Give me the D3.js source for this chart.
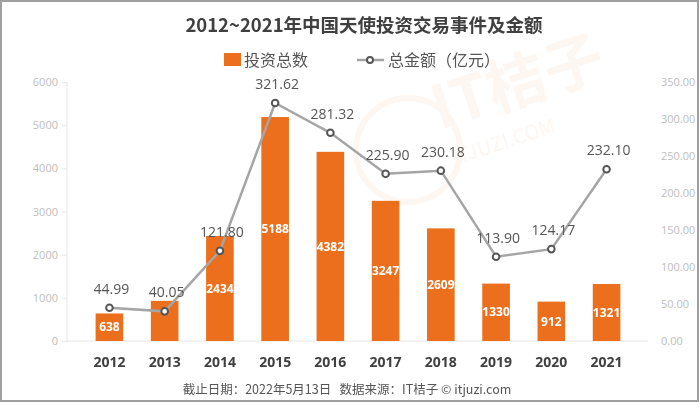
<!DOCTYPE html>
<html><head><meta charset="utf-8">
<script src="https://cdn.jsdelivr.net/npm/d3@7/dist/d3.min.js"></script>
<style>body{margin:0;background:#fff}svg{display:block;font-family:"Noto Sans CJK SC","Noto Sans",sans-serif}</style>
</head><body>
<script>
const years = ["2012","2013","2014","2015","2016","2017","2018","2019","2020","2021"];
const counts = [638, 930, 2434, 5188, 4382, 3247, 2609, 1330, 912, 1321];
const showCountLabel = [true,false,true,true,true,true,true,true,true,true];
const amounts = [44.99, 40.05, 121.80, 321.62, 281.32, 225.90, 230.18, 113.90, 124.17, 232.10];
const leftTicks = [0,1000,2000,3000,4000,5000,6000];
const rightTicks = [0,50,100,150,200,250,300,350];
const title = "2012~2021年中国天使投资交易事件及金额";
const legendBar = "投资总数";
const legendLine = "总金额（亿元）";
const footer = "截止日期：2022年5月13日   数据来源：IT桔子 © itjuzi.com";

const W=700,H=408;
const svg=d3.select("body").append("svg").attr("width",W).attr("height",H);
svg.append("rect").attr("x",1).attr("y",1).attr("width",W-3).attr("height",400).attr("fill","#fff").attr("stroke","#a0a0a0").attr("stroke-width",2);

// watermark
const wm=svg.append("g").attr("opacity",0.06);
wm.append("circle").attr("cx",408).attr("cy",150).attr("r",52).attr("fill","none").attr("stroke","#e8701e").attr("stroke-width",6);
wm.append("text").attr("x",440).attr("y",130).attr("transform","rotate(-18,440,130)").attr("font-size",60).attr("font-weight","bold").attr("fill","#e8701e").text("IT桔子");
wm.append("text").attr("x",455).attr("y",165).attr("transform","rotate(-18,455,165)").attr("font-size",20).attr("fill","#e8701e").text("ITJUZI.COM");

const x=d3.scaleBand().domain(years).range([68,648]).padding(0.5);
const yL=d3.scaleLinear().domain([0,6000]).range([341,82]);
const yR=d3.scaleLinear().domain([0,350]).range([341,82]);

// left axis
const gl=svg.append("g").attr("transform","translate(67,0)").call(d3.axisLeft(yL).tickValues(leftTicks).tickSize(5).tickPadding(4).tickFormat(d3.format("d")));
gl.select(".domain").attr("stroke","#e6e6e6").attr("d","M0,82V341");
gl.selectAll(".tick line").attr("stroke","#e6e6e6");
gl.selectAll(".tick text").attr("fill","#bdbdbd").attr("font-size",11).attr("font-family","Open Sans,sans-serif");

// right axis (labels only)
const gr=svg.append("g").attr("transform","translate(655,0)").call(d3.axisRight(yR).tickValues(rightTicks).tickSize(0).tickPadding(6).tickFormat(d3.format(".2f")));
gr.select(".domain").remove();
gr.selectAll(".tick text").attr("fill","#bdbdbd").attr("font-size",11).attr("font-family","Open Sans,sans-serif");

// baseline
svg.append("line").attr("x1",67).attr("x2",648).attr("y1",341).attr("y2",341).attr("stroke","#e6e6e6");

// bars
svg.selectAll("rect.bar").data(counts).join("rect").attr("class","bar")
 .attr("x",(d,i)=>x(years[i])).attr("width",x.bandwidth())
 .attr("y",d=>yL(d)).attr("height",d=>yL(0)-yL(d)).attr("fill","#eb6f1d");
svg.selectAll("text.bl").data(counts.map((d,i)=>({d,i})).filter(o=>showCountLabel[o.i])).join("text").attr("class","bl")
 .attr("x",o=>x(years[o.i])+x.bandwidth()/2).attr("y",o=>(yL(o.d)+yL(0))/2)
 .attr("dy","0.35em").attr("text-anchor","middle").attr("fill","#fff").attr("font-weight","bold")
 .attr("font-size",12).attr("font-family","Open Sans,sans-serif").text(o=>o.d);

// line
const cx=(i)=>x(years[i])+x.bandwidth()/2;
svg.append("path").datum(amounts).attr("fill","none").attr("stroke","#a5a5a5").attr("stroke-width",2.5)
 .attr("d",d3.line().x((d,i)=>cx(i)).y(d=>yR(d)));
svg.selectAll("circle.pt").data(amounts).join("circle").attr("class","pt")
 .attr("cx",(d,i)=>cx(i)).attr("cy",d=>yR(d)).attr("r",3.3).attr("fill","#fff").attr("stroke","#555").attr("stroke-width",2);
svg.selectAll("text.ll").data(amounts).join("text").attr("class","ll")
 .attr("x",(d,i)=>cx(i)+2).attr("y",d=>yR(d)-14)
 .attr("text-anchor","middle").attr("fill","#555").attr("font-size",14).attr("font-family","Open Sans,sans-serif")
 .text(d=>d.toFixed(2));

// x labels
svg.selectAll("text.xl").data(years).join("text").attr("class","xl")
 .attr("x",d=>x(d)+x.bandwidth()/2).attr("y",367).attr("text-anchor","middle")
 .attr("fill","#404040").attr("font-weight","bold").attr("font-size",14).attr("font-family","Open Sans,sans-serif").text(d=>d);

// title
svg.append("text").attr("x",364).attr("y",32).attr("text-anchor","middle").attr("font-size",18.5).attr("font-weight","bold").attr("fill","#404040").text(title);

// legend
svg.append("rect").attr("x",224).attr("y",53).attr("width",17).attr("height",13).attr("fill","#eb6f1d");
svg.append("text").attr("x",244).attr("y",66).attr("font-size",16).attr("fill","#555").text(legendBar);
svg.append("line").attr("x1",357).attr("x2",384).attr("y1",60).attr("y2",60).attr("stroke","#a5a5a5").attr("stroke-width",2.5);
svg.append("circle").attr("cx",370).attr("cy",60).attr("r",3).attr("fill","#fff").attr("stroke","#555").attr("stroke-width",2);
svg.append("text").attr("x",388).attr("y",66).attr("font-size",16).attr("fill","#555").text(legendLine);

// footer
svg.append("text").attr("x",347).attr("y",394).attr("text-anchor","middle").attr("font-size",12.5).attr("fill","#555").attr("xml:space","preserve").style("white-space","pre").text(footer);
</script>
</body></html>
